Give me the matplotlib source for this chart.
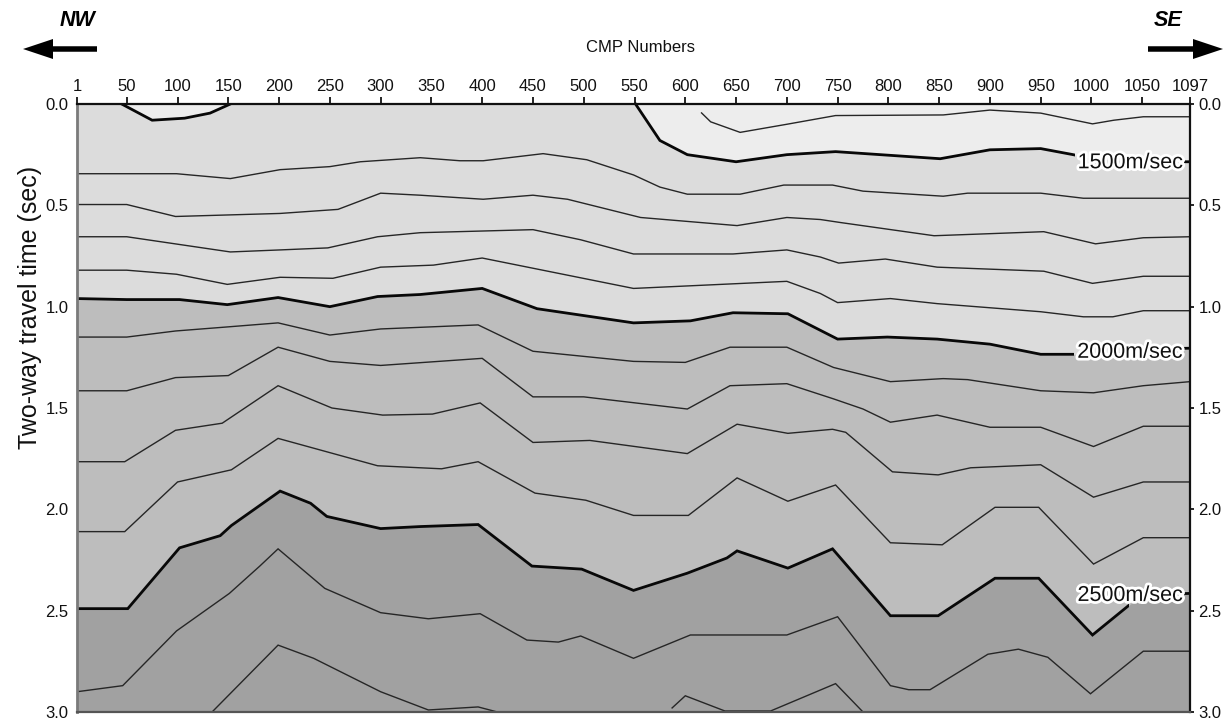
import matplotlib
matplotlib.use("Agg")
import matplotlib.pyplot as plt
import matplotlib.patheffects as pe
from matplotlib.patches import Rectangle, FancyArrow

plt.rcParams['font.family'] = ['Liberation Sans', 'DejaVu Sans']

# ---- velocity contours: CMP number vs two-way travel time (s) ----
v1400_nw_cmp = [45, 75, 107, 132, 152]
v1400_nw_twt = [0.0, 0.08, 0.07, 0.045, 0.0]

v1400_se_cmp = [616, 625, 654, 700, 748, 854, 900, 950, 1001, 1022, 1051, 1097]
v1400_se_twt = [0.044, 0.088, 0.14, 0.10, 0.057, 0.054, 0.03, 0.045, 0.098, 0.08, 0.063, 0.063]

v1500_cmp = [551, 575, 602, 650, 700, 748, 851, 900, 950, 982, 1000, 1050, 1097]
v1500_twt = [0.0, 0.18, 0.25, 0.285, 0.25, 0.235, 0.27, 0.226, 0.22, 0.25, 0.27, 0.285, 0.285]

v1600_cmp = [1, 99, 152, 201, 250, 280, 339, 378, 401, 460, 503, 549, 575, 602, 654, 697,
             745, 775, 854, 878, 950, 992, 1097]
v1600_twt = [0.344, 0.344, 0.368, 0.324, 0.309, 0.285, 0.265, 0.28, 0.28, 0.245, 0.275, 0.35,
             0.41, 0.445, 0.445, 0.40, 0.40, 0.43, 0.455, 0.44, 0.44, 0.465, 0.465]

v1700_cmp = [1, 50, 98, 201, 258, 300, 339, 401, 450, 484, 556, 651, 700, 733, 753, 845,
             953, 1004, 1051, 1097]
v1700_twt = [0.496, 0.496, 0.555, 0.54, 0.52, 0.44, 0.45, 0.47, 0.45, 0.47, 0.56, 0.60,
             0.56, 0.57, 0.585, 0.65, 0.63, 0.69, 0.66, 0.655]

v1800_cmp = [1, 50, 152, 201, 248, 297, 339, 450, 497, 549, 647, 700, 733, 751, 797, 848,
             953, 1001, 1051, 1097]
v1800_twt = [0.655, 0.655, 0.73, 0.72, 0.71, 0.655, 0.635, 0.62, 0.67, 0.74, 0.74, 0.72,
             0.755, 0.785, 0.765, 0.805, 0.825, 0.885, 0.85, 0.85]

v1900_cmp = [1, 50, 99, 149, 201, 253, 300, 352, 400, 549, 700, 733, 750, 802, 848, 950,
             992, 1021, 1051, 1097]
v1900_twt = [0.82, 0.82, 0.84, 0.89, 0.855, 0.86, 0.805, 0.795, 0.76, 0.91, 0.875, 0.935,
             0.98, 0.96, 0.985, 1.025, 1.05, 1.05, 1.02, 1.02]

v2000_cmp = [1, 50, 102, 149, 199, 250, 297, 339, 400, 454, 549, 605, 647, 701, 750, 799,
             848, 900, 950, 1000, 1050, 1097]
v2000_twt = [0.96, 0.965, 0.965, 0.99, 0.955, 1.0, 0.95, 0.94, 0.91, 1.01, 1.08, 1.07, 1.03,
             1.035, 1.16, 1.15, 1.16, 1.185, 1.235, 1.235, 1.21, 1.205]

v2100_cmp = [1, 50, 98, 149, 199, 250, 300, 396, 450, 549, 600, 644, 700, 746, 802, 854,
             878, 950, 1002, 1051, 1097]
v2100_twt = [1.15, 1.15, 1.12, 1.10, 1.08, 1.14, 1.11, 1.09, 1.22, 1.27, 1.275, 1.20, 1.20,
             1.30, 1.37, 1.355, 1.36, 1.415, 1.425, 1.39, 1.37]

v2200_cmp = [1, 50, 98, 150, 199, 250, 300, 400, 450, 500, 602, 644, 700, 746, 775, 802,
             848, 900, 950, 1002, 1051, 1097]
v2200_twt = [1.415, 1.415, 1.35, 1.34, 1.20, 1.27, 1.29, 1.255, 1.445, 1.445, 1.505, 1.39,
             1.38, 1.455, 1.505, 1.57, 1.535, 1.595, 1.595, 1.69, 1.59, 1.59]

v2300_cmp = [1, 48, 98, 144, 199, 252, 302, 351, 398, 450, 506, 602, 651, 701, 745, 758,
             804, 849, 881, 950, 1002, 1051, 1097]
v2300_twt = [1.765, 1.765, 1.61, 1.575, 1.39, 1.50, 1.535, 1.53, 1.475, 1.67, 1.66, 1.725,
             1.58, 1.625, 1.605, 1.62, 1.815, 1.83, 1.795, 1.78, 1.94, 1.865, 1.865]

v2400_cmp = [1, 48, 100, 153, 199, 297, 339, 360, 396, 452, 502, 549, 603, 651, 701, 748,
             802, 853, 905, 948, 1002, 1051, 1097]
v2400_twt = [2.11, 2.11, 1.865, 1.805, 1.65, 1.785, 1.795, 1.80, 1.765, 1.92, 1.955, 2.03,
             2.03, 1.845, 1.96, 1.88, 2.165, 2.175, 1.99, 1.99, 2.27, 2.14, 2.14]

v2500_cmp = [1, 51, 102, 142, 153, 201, 231, 247, 300, 339, 396, 449, 498, 549, 602, 641,
             651, 701, 745, 802, 849, 905, 948, 1001, 1050, 1097]
v2500_twt = [2.49, 2.49, 2.19, 2.13, 2.08, 1.91, 1.97, 2.035, 2.095, 2.085, 2.075, 2.28,
             2.295, 2.40, 2.315, 2.24, 2.205, 2.29, 2.195, 2.525, 2.525, 2.34, 2.34, 2.62,
             2.42, 2.415]

v2600_cmp = [1, 46, 99, 151, 181, 199, 245, 300, 347, 398, 444, 475, 497, 549, 605, 700,
             750, 802, 820, 841, 898, 928, 957, 999, 1051, 1097]
v2600_twt = [2.90, 2.87, 2.60, 2.415, 2.28, 2.195, 2.39, 2.51, 2.54, 2.515, 2.645, 2.655,
             2.625, 2.735, 2.62, 2.62, 2.53, 2.87, 2.89, 2.89, 2.715, 2.69, 2.73, 2.91,
             2.70, 2.70]

v2700_w_cmp = [134, 199, 234, 300, 347, 396, 415]
v2700_w_twt = [3.0, 2.67, 2.735, 2.90, 2.99, 2.975, 3.0]

v2700_e_cmp = [587, 600, 639, 684, 748, 775]
v2700_e_twt = [2.98, 2.92, 2.995, 2.995, 2.86, 3.0]

cmp_ticks = [1, 50, 100, 150, 200, 250, 300, 350, 400, 450, 500, 550, 600, 650, 700, 750,
             800, 850, 900, 950, 1000, 1050, 1097]
twt_ticks = [0.0, 0.5, 1.0, 1.5, 2.0, 2.5, 3.0]

# band shades: <1500, 1500-2000, 2000-2500, >2500 m/s
shade_slow = '#ededed'
shade_1500 = '#dcdcdc'
shade_2000 = '#bdbdbd'
shade_2500 = '#a1a1a1'

fig = plt.figure(figsize=(12.26, 7.2), dpi=100)
ax = fig.add_axes([77 / 1226, 8 / 720, 1113 / 1226, 608 / 720])
ax.set_xlim(1, 1097)
ax.set_ylim(3.0, 0.0)
ax.set_facecolor(shade_2500)

# filled velocity bands, painted from deep to shallow
ax.fill_between(v2500_cmp, 0, v2500_twt, color=shade_2000, lw=0)
ax.fill_between(v2000_cmp, 0, v2000_twt, color=shade_1500, lw=0)
ax.fill_between(v1500_cmp, 0, v1500_twt, color=shade_slow, lw=0)
ax.fill_between(v1400_nw_cmp, 0, v1400_nw_twt, color=shade_slow, lw=0)

thin = dict(color='#262626', lw=1.0, solid_joinstyle='miter')
thick = dict(color='#080808', lw=2.0, solid_joinstyle='miter')


def contour(cmp, twt, style, gap=None):
    if gap is None:
        ax.plot(cmp, twt, **style)
        return
    for x0, x1 in [(1, gap[0]), (gap[1], 1097)]:
        line, = ax.plot(cmp, twt, **style)
        line.set_clip_path(Rectangle((x0, -0.1), x1 - x0, 3.2, transform=ax.transData))


contour(v1400_nw_cmp, v1400_nw_twt, thick)
contour(v1400_se_cmp, v1400_se_twt, thin)
contour(v1500_cmp, v1500_twt, thick, gap=(984, 1090))
for c, t in [(v1600_cmp, v1600_twt), (v1700_cmp, v1700_twt), (v1800_cmp, v1800_twt),
             (v1900_cmp, v1900_twt)]:
    contour(c, t, thin)
contour(v2000_cmp, v2000_twt, thick, gap=(983, 1090))
for c, t in [(v2100_cmp, v2100_twt), (v2200_cmp, v2200_twt), (v2300_cmp, v2300_twt),
             (v2400_cmp, v2400_twt)]:
    contour(c, t, thin)
contour(v2500_cmp, v2500_twt, thick, gap=(1037, 1090))
for c, t in [(v2600_cmp, v2600_twt), (v2700_w_cmp, v2700_w_twt), (v2700_e_cmp, v2700_e_twt)]:
    contour(c, t, thin)

halo = [pe.withStroke(linewidth=4, foreground='white')]
for label, t in [('1500m/sec', 0.29), ('2000m/sec', 1.225), ('2500m/sec', 2.425)]:
    ax.text(1090, t, label, ha='right', va='center', fontsize=15.5, color='#111111',
            path_effects=halo, zorder=5)

# axes decoration
ax.xaxis.tick_top()
ax.set_xticks(cmp_ticks)
ax.set_xticklabels([str(v) for v in cmp_ticks])
ax.tick_params(axis='x', top=True, bottom=False, labeltop=True, labelbottom=False,
               length=5, width=1.2, pad=2, labelsize=12, labelcolor='#111111')
ax.set_yticks(twt_ticks)
ax.set_yticklabels([f'{v:.1f}' for v in twt_ticks])
ax.tick_params(axis='y', left=False, right=True, labelleft=True, labelright=True,
               length=3, width=1.2, pad=3, labelsize=12, labelcolor='#111111')
ax.spines['left'].set_color('#7a7a7a')
ax.spines['left'].set_linewidth(2.0)
ax.spines['top'].set_color('#111111')
ax.spines['top'].set_linewidth(1.6)
ax.spines['right'].set_color('#111111')
ax.spines['right'].set_linewidth(1.6)
ax.spines['bottom'].set_color('#555555')
ax.spines['bottom'].set_linewidth(1.6)

fig.text(641 / 1226, 1 - 47 / 720, 'CMP Numbers', ha='center', va='center',
         fontsize=12, color='#111111')
fig.text(30 / 1226, 1 - 307 / 720, 'Two-way travel time (sec)', rotation=90,
         ha='center', va='center', fontsize=18, color='#111111')

# direction arrows in pixel space
over = fig.add_axes([0, 0, 1, 1])
over.set_xlim(0, 1226)
over.set_ylim(720, 0)
over.axis('off')
over.add_patch(FancyArrow(97, 49, -74, 0, width=5.5, head_width=20, head_length=30,
                          length_includes_head=True, color='black', lw=0))
over.add_patch(FancyArrow(1148, 49, 75, 0, width=5.5, head_width=20, head_length=30,
                          length_includes_head=True, color='black', lw=0))
over.text(78, 21, 'NW', ha='center', va='center', fontsize=15.5, fontweight='bold',
          fontstyle='italic', color='black')
over.text(1168, 21, 'SE', ha='center', va='center', fontsize=15.5, fontweight='bold',
          fontstyle='italic', color='black')

fig.savefig('out.png', dpi=100)
